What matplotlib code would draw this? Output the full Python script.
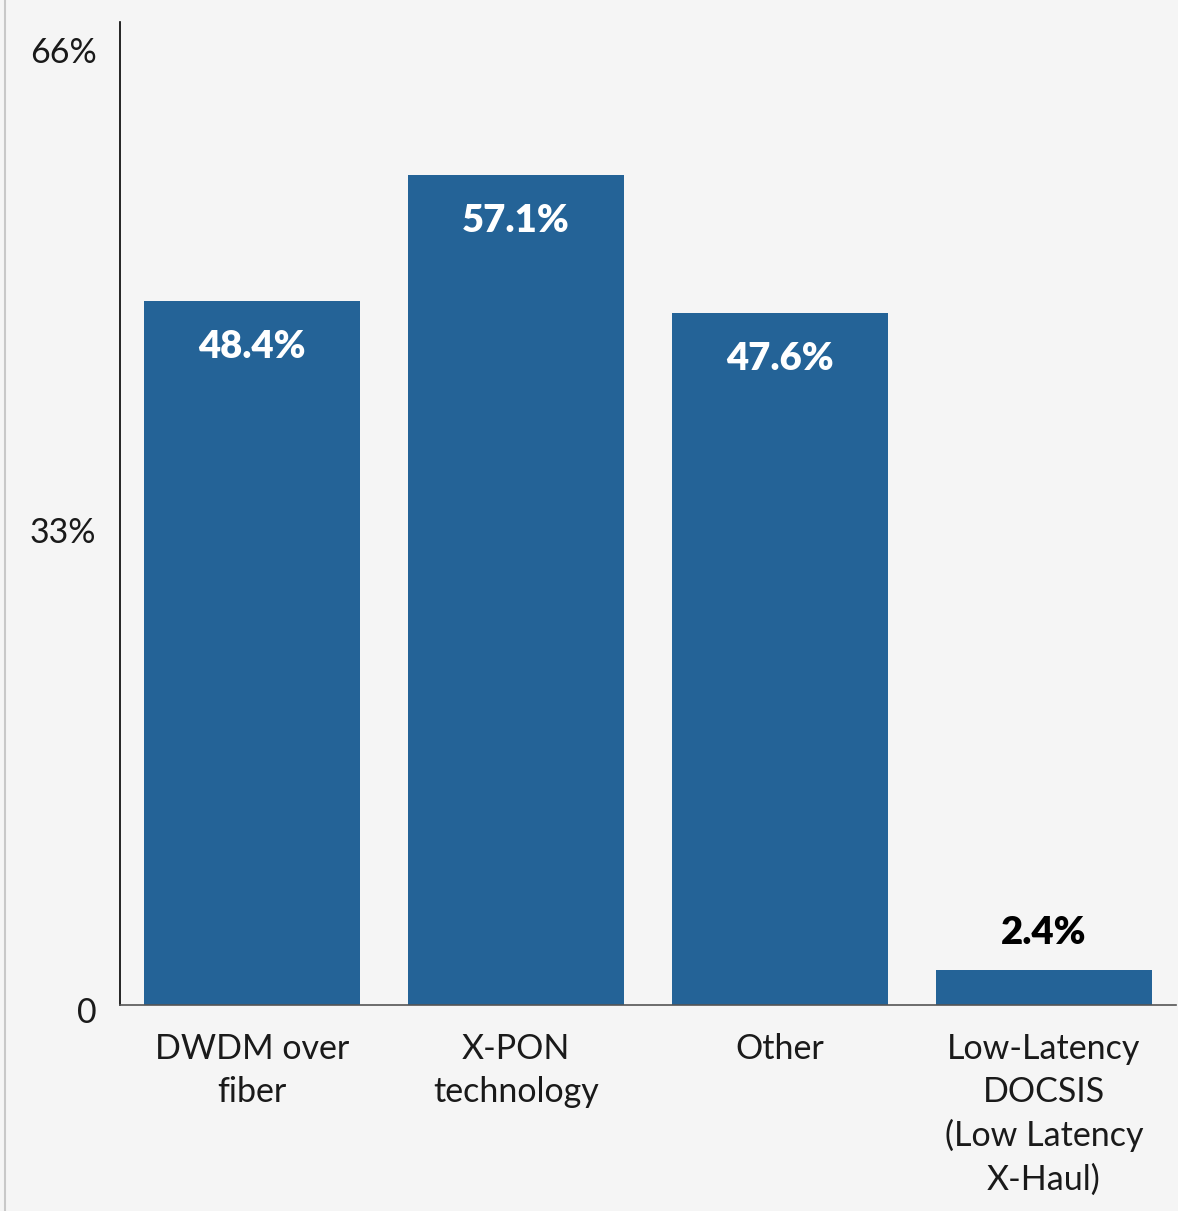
import matplotlib
matplotlib.use("Agg")
import matplotlib.pyplot as plt
import matplotlib.transforms as mtransforms
from matplotlib.lines import Line2D

categories = ["DWDM over\nfiber", "X-PON\ntechnology", "Other",
              "Low-Latency\nDOCSIS\n(Low Latency\nX-Haul)"]
values = [48.4, 57.1, 47.6, 2.4]
value_labels = ["48.4%", "57.1%", "47.6%", "2.4%"]
y_ticks = [0, 33, 66]
y_tick_labels = ["0", "33%", "66%"]

plt.rcParams["font.family"] = ["Lato", "DejaVu Sans"]

BG = "#f5f5f5"
BAR = "#246397"

fig = plt.figure(figsize=(11.78, 12.11), dpi=100, facecolor=BG)
ax = fig.add_axes([120 / 1178, 1 - 1005 / 1211, 1056 / 1178, (1005 - 22) / 1211])
ax.set_facecolor(BG)

x = range(len(categories))
bars = ax.bar(x, values, width=0.818, color=BAR, zorder=2)
ax.set_xlim(-0.5, len(categories) - 0.5)
ax.set_ylim(0, 67.6)

for rect, v, lab in zip(bars, values, value_labels):
    cx = rect.get_x() + rect.get_width() / 2
    if v > 10:
        ax.annotate(lab, (cx, v), xytext=(0, -33), textcoords="offset points",
                    ha="center", va="center", color="white",
                    fontsize=27.5, fontweight="heavy")
    else:
        ax.annotate(lab, (cx, v), xytext=(0, 27), textcoords="offset points",
                    ha="center", va="center", color="black",
                    fontsize=27.5, fontweight="heavy")

ax.set_xticks(list(x))
ax.set_xticklabels(categories, fontsize=24.5, color="#1a1a1a",
                   linespacing=1.42)
ax.set_yticks(y_ticks)
ax.set_yticklabels(y_tick_labels, fontsize=24.5, color="#1a1a1a")
ax.tick_params(axis="x", length=0, pad=20)
ax.tick_params(axis="y", length=0, pad=17)

# nudge the y tick labels slightly below their gridline positions
shift = mtransforms.ScaledTranslation(0, -5 / 100, fig.dpi_scale_trans)
for lab in ax.get_yticklabels():
    lab.set_transform(lab.get_transform() + shift)

for side in ("top", "right"):
    ax.spines[side].set_visible(False)
ax.spines["left"].set_color("black")
ax.spines["left"].set_linewidth(1.2)
ax.spines["bottom"].set_color("#555555")
ax.spines["bottom"].set_linewidth(1.2)

# thin frame line along the left edge of the figure
fig.add_artist(Line2D([4.5 / 1178, 4.5 / 1178], [0, 1], transform=fig.transFigure,
                      color="#c8c8c8", linewidth=1.5))

fig.savefig("out.png", dpi=100, facecolor=BG)
